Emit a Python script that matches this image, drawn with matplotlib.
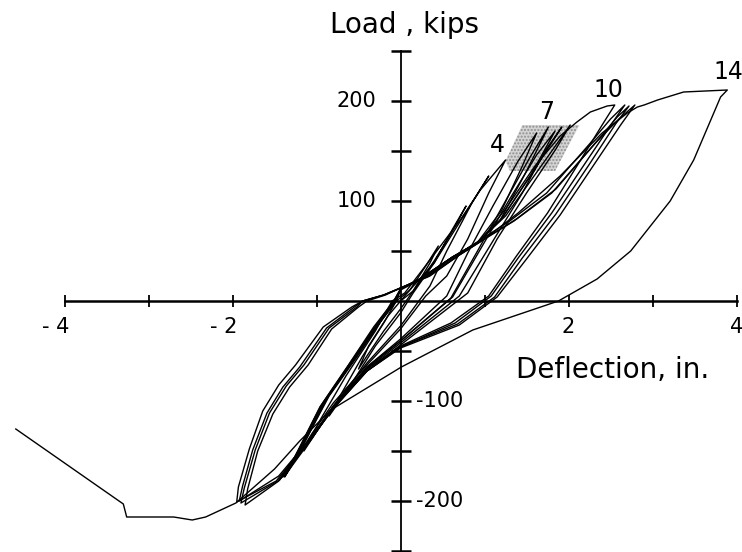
import numpy as np
import matplotlib.pyplot as plt
from matplotlib.patches import Polygon

# load-deflection record, one pair of lists per cycle (deflection in., load kips)
c1_x = [0.00, 0.12, 0.30, 0.45, 0.35, 0.15, 0.00, -0.20, -0.40, -0.50, -0.38, -0.15, 0.00]
c1_y = [0, 12, 35, 55, 38, 10, -8, -30, -55, -68, -45, -15, 0]
c2_x = [0.00, 0.15, 0.40, 0.62, 0.78, 0.62, 0.40, 0.15, 0.00, -0.30, -0.60, -0.85, -0.70, -0.45, -0.20, -0.05]
c2_y = [0, 10, 40, 70, 95, 72, 38, 8, -12, -45, -85, -115, -92, -55, -22, 0]
c3_x = [-0.05, 0.10, 0.40, 0.75, 1.05, 0.85, 0.55, 0.35, 0.00, -0.40, -0.80, -1.15, -0.95, -0.65, -0.30, -0.10]
c3_y = [0, 10, 38, 85, 125, 98, 50, 15, -25, -62, -105, -150, -118, -75, -30, 0]
c4_x = [-0.10, 0.05, 0.35, 0.71, 0.95, 1.25, 1.05, 0.80, 0.55, 0.30, 0.00, -0.40, -0.80, -1.05, -1.38,
        -1.20, -0.85, -0.52, -0.25, -0.07]
c4_y = [0, 8, 41, 81, 111, 141, 108, 62, 25, 5, -28, -64, -102, -132, -176, -150, -95, -56, -22, 0]
c5_x = [-0.07, 0.00, 0.23, 0.62, 0.91, 1.20, 1.45, 1.62, 1.40, 1.10, 0.80, 0.55, 0.00, -0.40, -0.80, -1.05,
        -1.40, -1.22, -0.90, -0.55, -0.25, -0.05]
c5_y = [0, 11, 21, 44, 58, 90, 135, 168, 140, 95, 48, 5, -38, -66, -106, -135, -176, -152, -100, -58, -22, 0]
c6_x = [-0.05, 0.00, 0.23, 0.62, 0.91, 1.18, 1.50, 1.76, 1.55, 1.25, 0.95, 0.60, 0.00, -0.40, -0.80, -1.05,
        -1.42, -1.25, -0.95, -0.60, -0.30, -0.08]
c6_y = [0, 12, 22, 44, 58, 80, 130, 174, 145, 100, 55, 3, -40, -67, -106, -136, -177, -155, -105, -62, -25, 0]
c7_x = [-0.08, 0.00, 0.23, 0.62, 0.91, 1.20, 1.60, 1.92, 1.72, 1.45, 1.10, 0.70, 0.00, -0.40, -0.80, -1.05,
        -1.38, -1.22, -0.92, -0.58, -0.28, -0.06]
c7_y = [0, 12, 22, 44, 58, 82, 132, 174, 150, 108, 60, 5, -42, -68, -106, -137, -175, -150, -102, -60, -24, 0]
c8_x = [-0.06, 0.00, 0.23, 0.62, 0.91, 1.25, 1.70, 2.02, 1.85, 1.50, 1.15, 0.80, 0.00, -0.40, -0.80, -1.08,
        -1.44, -1.26, -0.96, -0.62, -0.32, -0.08]
c8_y = [0, 12, 22, 44, 58, 85, 138, 176, 152, 108, 62, 8, -44, -70, -107, -140, -179, -156, -106, -64, -26, 0]
c9_x = [-0.08, 0.00, 0.23, 0.62, 0.91, 1.22, 1.55, 1.84, 1.62, 1.30, 0.98, 0.62, 0.00, -0.40, -0.80, -1.06,
        -1.36, -1.18, -0.88, -0.54, -0.24, -0.05]
c9_y = [0, 12, 22, 44, 58, 84, 126, 170, 146, 102, 56, 4, -40, -66, -105, -136, -172, -148, -98, -57, -21, 0]
c10_x = [-0.05, 0.00, 0.25, 0.65, 0.95, 1.25, 1.60, 1.90, 2.10, 2.26, 2.46, 2.55, 2.40, 2.10, 1.75, 1.38,
         1.05, 0.60, 0.00, -0.40, -0.80, -1.10, -1.45, -1.92, -1.88, -1.76, -1.59, -1.40, -1.20, -0.88, -0.55, -0.45]
c10_y = [0, 12, 23, 45, 60, 92, 135, 165, 179, 189, 195, 196, 176, 135, 88, 45, 5, -22, -45, -68, -106, -140,
         -175, -200, -185, -149, -112, -86, -66, -27, -6, 0]
c11_x = [-0.45, -0.20, 0.00, 0.30, 0.65, 0.95, 1.30, 1.74, 2.26, 2.50, 2.67, 2.52, 2.20, 1.80, 1.40, 1.08,
         0.65, 0.00, -0.40, -0.80, -1.10, -1.45, -1.85, -1.82, -1.70, -1.52, -1.32, -1.10, -0.82, -0.50, -0.40]
c11_y = [0, 6, 13, 24, 45, 61, 80, 108, 158, 182, 196, 178, 138, 88, 43, 5, -22, -46, -70, -107, -142, -180,
         -204, -188, -150, -113, -86, -64, -28, -6, 0]
c12_x = [-0.40, -0.18, 0.00, 0.32, 0.68, 0.98, 1.35, 1.80, 2.32, 2.60, 2.79, 2.62, 2.30, 1.90, 1.50, 1.15,
         0.70, 0.00, -0.40, -0.80, -1.12, -1.48, -1.95, -1.93, -1.80, -1.64, -1.45, -1.25, -0.92, -0.58, -0.45]
c12_y = [0, 6, 13, 24, 45, 61, 80, 108, 158, 182, 196, 176, 136, 86, 42, 4, -24, -47, -70, -107, -143, -180,
         -201, -186, -148, -110, -84, -64, -26, -6, 0]
c13_x = [-0.45, -0.20, 0.00, 0.35, 0.70, 1.00, 1.38, 1.85, 2.36, 2.58, 2.72, 2.56, 2.25, 1.85, 1.45, 1.12,
         0.68, 0.00, -0.40, -0.80, -1.12, -1.46, -1.90, -1.86, -1.73, -1.56, -1.36, -1.15, -0.85, -0.52, -0.45]
c13_y = [0, 6, 13, 25, 46, 62, 82, 112, 162, 184, 195, 177, 137, 87, 43, 4, -23, -46, -70, -108, -143, -180,
         -202, -187, -149, -112, -85, -64, -27, -6, 0]
c14_x = [-0.45, -0.20, 0.00, 0.35, 0.70, 1.00, 1.40, 1.90, 2.40, 2.70, 2.82, 2.90, 3.06, 3.37, 3.89, 3.81,
         3.49, 3.21, 2.74, 2.34, 1.88, 0.86, 0.01, -0.83, -1.20, -1.50, -1.96, -2.32, -2.48, -2.70, -3.26,
         -3.30, -4.58]
c14_y = [0, 6, 13, 26, 46, 62, 88, 125, 168, 188, 194, 196, 201, 209, 211, 204, 141, 100, 50, 22, 0, -29,
         -66, -109, -140, -168, -202, -216, -219, -216, -216, -203, -128]

cycles = [(c1_x, c1_y), (c2_x, c2_y), (c3_x, c3_y), (c4_x, c4_y), (c5_x, c5_y), (c6_x, c6_y),
          (c7_x, c7_y), (c8_x, c8_y), (c9_x, c9_y), (c10_x, c10_y), (c11_x, c11_y), (c12_x, c12_y),
          (c13_x, c13_y), (c14_x, c14_y)]

# cycle numbers written at the peaks
peak_labels = ['4', '7', '10', '14']
peak_label_x = [1.15, 1.74, 2.47, 3.90]
peak_label_y = [156, 189, 211, 229]

# shaded zone between peaks 4 and 7
shade_x = [1.45, 2.13, 1.84, 1.30, 1.25]
shade_y = [176, 176, 130, 130, 140]

x_ticks = [-4, -3, -2, -1, 1, 2, 3, 4]
x_tick_labels = [-4, -2, 2, 4]
y_ticks = [-250, -200, -150, -100, -50, 50, 100, 150, 200, 250]
y_tick_labels = [-200, -100, 100, 200]

fig = plt.figure(figsize=(7.42, 5.52), dpi=100)
ax = fig.add_axes([0, 0, 1, 1])
ax.set_xlim(-4.768, 4.065)
ax.set_ylim(-251, 301)

ax.add_patch(Polygon(np.column_stack([shade_x, shade_y]), closed=True, facecolor='#d4d4d4',
                     edgecolor='#909090', hatch='.....', linewidth=0, zorder=1))

for cx, cy in cycles:
    ax.plot(cx, cy, color='black', linewidth=1.0, zorder=3)

# axes through the origin
for s in ['top', 'right']:
    ax.spines[s].set_visible(False)
ax.spines['left'].set_position(('data', 0))
ax.spines['bottom'].set_position(('data', 0))
ax.spines['bottom'].set_bounds(-4, 4)
ax.spines['left'].set_bounds(-260, 250)
ax.spines['bottom'].set_linewidth(1.8)
ax.spines['left'].set_linewidth(1.3)
ax.set_xticks(x_ticks)
ax.set_yticks(y_ticks)
ax.set_xticklabels([])
ax.set_yticklabels([])
ax.tick_params(axis='x', direction='inout', length=9, width=1.3)
ax.tick_params(axis='y', direction='inout', length=14, width=1.8)

for v in x_tick_labels:
    if v < 0:
        ax.text(v + 0.06, -26, '- %d' % abs(v), ha='right', va='center', fontsize=15)
    else:
        ax.text(v, -26, '%d' % v, ha='center', va='center', fontsize=15)
for v in y_tick_labels:
    if v > 0:
        ax.text(-0.29, v, '%d' % v, ha='right', va='center', fontsize=15)
    else:
        ax.text(0.18, v, '-%d' % abs(v), ha='left', va='center', fontsize=15)

ax.text(0.05, 276, 'Load , kips', ha='center', va='center', fontsize=20)
ax.text(1.37, -69, 'Deflection, in.', ha='left', va='center', fontsize=20)

for lab, lx, ly in zip(peak_labels, peak_label_x, peak_label_y):
    ax.text(lx, ly, lab, ha='center', va='center', fontsize=17)

plt.savefig('out.png', dpi=100)
